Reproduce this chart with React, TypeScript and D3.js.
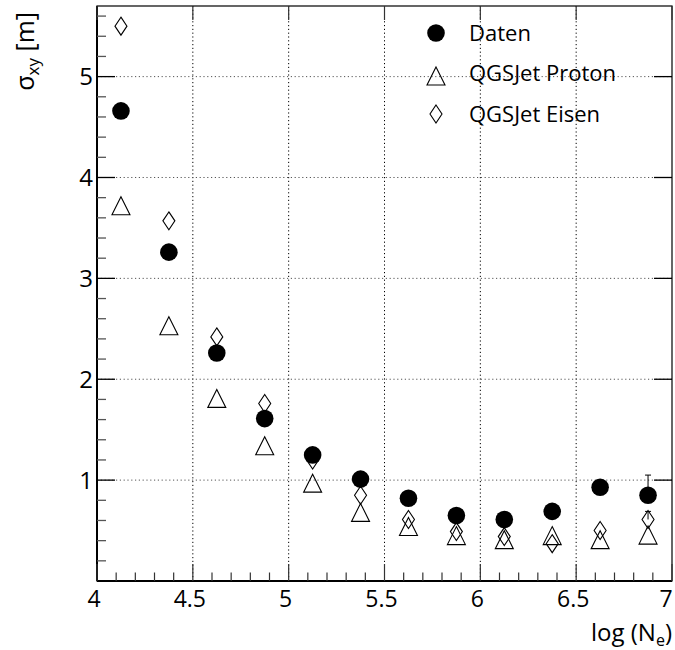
import React from "react";
import * as d3 from "d3";

const logNe = [4.125, 4.375, 4.625, 4.875, 5.125, 5.375, 5.625, 5.875, 6.125, 6.375, 6.625, 6.875];
const daten = [4.66, 3.26, 2.26, 1.61, 1.25, 1.01, 0.82, 0.65, 0.61, 0.69, 0.93, 0.85];
const datenErrUp = [0, 0, 0, 0, 0, 0, 0, 0, 0, 0, 0, 0.2];
const proton = [3.72, 2.53, 1.81, 1.34, 0.97, 0.68, 0.54, 0.45, 0.41, 0.45, 0.41, 0.455];
const eisen = [5.5, 3.57, 2.42, 1.76, 1.2, 0.85, 0.61, 0.49, 0.44, 0.37, 0.5, 0.61];
const eisenErrUp = [0, 0, 0, 0, 0, 0, 0, 0, 0, 0, 0, 0.08];

const xMajor = [4, 4.5, 5, 5.5, 6, 6.5, 7];
const xLabels = ["4", "4.5", "5", "5.5", "6", "6.5", "7"];
const yMajor = [1, 2, 3, 4, 5];
const yLabels = ["1", "2", "3", "4", "5"];
const legendLabels = ["Daten", "QGSJet Proton", "QGSJet Eisen"];

const W = 675;
const H = 650;
const L = 97;
const R = 672;
const T = 6;
const B = 581;
const FONT = "'Open Sans', 'Liberation Sans', sans-serif";

const x = d3.scaleLinear().domain([4, 7]).range([L, R]);
const y = d3.scaleLinear().domain([0, 5.7]).range([B, T]);

const xMinor = d3.range(40, 71).map((v) => v / 10).filter((v) => Math.abs(v * 2 - Math.round(v * 2)) > 1e-6);
const yMinor = d3.range(1, 29).map((v) => v / 5).filter((v) => Math.abs(v - Math.round(v)) > 1e-6 && v < 5.7);

const Circle = ({ cx, cy }: { cx: number; cy: number }) => <circle cx={cx} cy={cy} r={8.8} fill="#000" />;
const Tri = ({ cx, cy }: { cx: number; cy: number }) => (
  <path d={`M${cx},${cy - 9} L${cx + 9},${cy + 9} L${cx - 9},${cy + 9} Z`} fill="none" stroke="#000" strokeWidth={1.1} />
);
const Diamond = ({ cx, cy }: { cx: number; cy: number }) => (
  <path d={`M${cx},${cy - 9} L${cx + 6},${cy} L${cx},${cy + 9} L${cx - 6},${cy} Z`} fill="none" stroke="#000" strokeWidth={1.1} />
);

export default function App() {
  return (
    <svg width={W} height={H} style={{ position: "absolute", left: 0, top: 0, background: "#fff" }} fontFamily={FONT}>
      <rect width={W} height={H} fill="#fff" />
      {/* grid */}
      {xMajor.slice(1, -1).map((v) => (
        <line key={"gx" + v} x1={x(v)} x2={x(v)} y1={T} y2={B} stroke="#000" strokeWidth={1} strokeDasharray="1.2,2.6" />
      ))}
      {yMajor.map((v) => (
        <line key={"gy" + v} x1={L} x2={R} y1={y(v)} y2={y(v)} stroke="#555" strokeWidth={1} strokeDasharray="1.2,2.6" />
      ))}
      {/* frame */}
      <rect x={L} y={T} width={R - L} height={B - T} fill="none" stroke="#000" strokeWidth={1.2} />
      <line x1={L} x2={R} y1={B} y2={B} stroke="#000" strokeWidth={2.2} />
      <line x1={L} x2={L} y1={T} y2={B} stroke="#000" strokeWidth={2} />
      {/* bottom ticks */}
      {xMajor.map((v) => (
        <line key={"xt" + v} x1={x(v)} x2={x(v)} y1={B} y2={B - 17} stroke="#333" strokeWidth={1.2} />
      ))}
      {xMinor.map((v) => (
        <line key={"xm" + v} x1={x(v)} x2={x(v)} y1={B} y2={B - 8.5} stroke="#333" strokeWidth={1.2} />
      ))}
      {/* top ticks */}
      {xMajor.map((v) => (
        <line key={"xtt" + v} x1={x(v)} x2={x(v)} y1={T} y2={T + 14} stroke="#333" strokeWidth={1.2} />
      ))}
      {/* left ticks */}
      {yMajor.map((v) => (
        <line key={"yt" + v} x1={L} x2={L + 18} y1={y(v)} y2={y(v)} stroke="#000" strokeWidth={1.3} />
      ))}
      {yMinor.map((v) => (
        <line key={"ym" + v} x1={L} x2={L + 9} y1={y(v)} y2={y(v)} stroke="#555" strokeWidth={1.3} />
      ))}
      {/* right ticks */}
      {yMajor.map((v) => (
        <line key={"ytr" + v} x1={R} x2={R - 18} y1={y(v)} y2={y(v)} stroke="#000" strokeWidth={1.3} />
      ))}
      {/* tick labels */}
      {xMajor.map((v, i) => (
        <text key={"xl" + v} x={Math.min(x(v) - 3, 666)} y={607} fontSize={23} textAnchor="middle" fill="#000">
          {xLabels[i]}
        </text>
      ))}
      {yMajor.map((v, i) => (
        <text key={"yl" + v} x={93} y={y(v) + 8.5} fontSize={24} textAnchor="end" fill="#000">
          {yLabels[i]}
        </text>
      ))}
      {/* axis titles */}
      <text x={R} y={641} fontSize={24} textAnchor="end" fill="#000">
        log (N<tspan fontSize={16} dy={5}>e</tspan>
        <tspan dy={-5}>)</tspan>
      </text>
      <text transform="translate(34,12) rotate(-90)" fontSize={25} textAnchor="end" fill="#000">
        σ<tspan fontSize={17} dy={5}>xy</tspan>
        <tspan dy={-5}> [m]</tspan>
      </text>
      {/* error bars */}
      {logNe.map((v, i) =>
        datenErrUp[i] > 0 ? (
          <g key={"ed" + i} stroke="#000" strokeWidth={1}>
            <line x1={x(v)} x2={x(v)} y1={y(daten[i])} y2={y(daten[i] + datenErrUp[i])} />
            <line x1={x(v) - 3} x2={x(v) + 3} y1={y(daten[i] + datenErrUp[i])} y2={y(daten[i] + datenErrUp[i])} />
          </g>
        ) : null
      )}
      {logNe.map((v, i) =>
        eisenErrUp[i] > 0 ? (
          <g key={"ee" + i} stroke="#000" strokeWidth={1}>
            <line x1={x(v)} x2={x(v)} y1={y(eisen[i])} y2={y(eisen[i] + eisenErrUp[i])} />
            <line x1={x(v) - 3} x2={x(v) + 3} y1={y(eisen[i] + eisenErrUp[i])} y2={y(eisen[i] + eisenErrUp[i])} />
          </g>
        ) : null
      )}
      {/* markers */}
      {logNe.map((v, i) => (
        <Tri key={"p" + i} cx={x(v)} cy={y(proton[i])} />
      ))}
      {logNe.map((v, i) => (
        <Diamond key={"e" + i} cx={x(v)} cy={y(eisen[i])} />
      ))}
      {logNe.map((v, i) => (
        <Circle key={"d" + i} cx={x(v)} cy={y(daten[i])} />
      ))}
      {/* legend */}
      <g>
        <Circle cx={436} cy={33} />
        <Tri cx={436} cy={76} />
        <Diamond cx={436} cy={114} />
        {legendLabels.map((t, i) => (
          <text key={t} x={469} y={40.5 + i * 40.5} fontSize={22} fill="#000">
            {t}
          </text>
        ))}
      </g>
    </svg>
  );
}
